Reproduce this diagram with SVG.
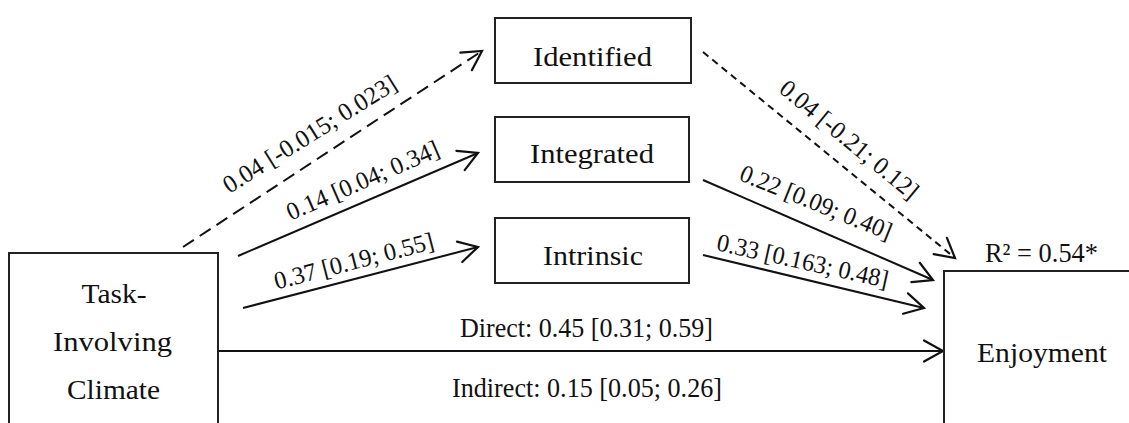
<svg xmlns="http://www.w3.org/2000/svg" width="1129" height="423" viewBox="0 0 1129 423">
<style>
.box{fill:#fff;stroke:#222;stroke-width:2}
.t{font-family:"Liberation Serif","Times New Roman",serif;fill:#111;text-anchor:middle}
.n{font-size:27.5px}
.l{font-size:25px}
.c{fill:none;stroke:#111;stroke-width:2}
.d1{stroke-dasharray:13 7}
.d2{stroke-dasharray:7 5}
</style>
<defs>
<marker id="ah" viewBox="-21 -13 24 26" markerWidth="24" markerHeight="26" refX="0" refY="0" orient="auto" markerUnits="userSpaceOnUse">
<path d="M -19 -10.5 L 0 0 L -19 10.5" fill="none" stroke="#111" stroke-width="2.2" stroke-linecap="round" stroke-linejoin="miter"/>
</marker>
</defs>
<rect width="1129" height="423" fill="#fff"/>
<g id="connectors">
<line class="c d1" x1="183" y1="247" x2="482" y2="51" marker-end="url(#ah)"/>
<line class="c" x1="238" y1="256" x2="478" y2="153" marker-end="url(#ah)"/>
<line class="c" x1="243" y1="308" x2="478" y2="247" marker-end="url(#ah)"/>
<line class="c" x1="218" y1="351" x2="943" y2="351" marker-end="url(#ah)"/>
<line class="c d2" x1="703" y1="52" x2="955" y2="258" marker-end="url(#ah)"/>
<line class="c" x1="703" y1="180" x2="933" y2="280" marker-end="url(#ah)"/>
<line class="c" x1="703" y1="255" x2="924" y2="308" marker-end="url(#ah)"/>
<text class="t l" transform="translate(314,141) rotate(-32)" textLength="200" lengthAdjust="spacingAndGlyphs">0.04 [-0.015; 0.023]</text>
<text class="t l" transform="translate(366,188) rotate(-23.5)" textLength="164" lengthAdjust="spacingAndGlyphs">0.14 [0.04; 0.34]</text>
<text class="t l" transform="translate(356,269) rotate(-14.5)" textLength="164" lengthAdjust="spacingAndGlyphs">0.37 [0.19; 0.55]</text>
<text class="t l" transform="translate(844,146) rotate(39.5)" textLength="172" lengthAdjust="spacingAndGlyphs">0.04 [-0.21; 0.12]</text>
<text class="t l" transform="translate(813,210) rotate(22)" textLength="162" lengthAdjust="spacingAndGlyphs">0.22 [0.09; 0.40]</text>
<text class="t l" transform="translate(801,269) rotate(12.5)" textLength="175" lengthAdjust="spacingAndGlyphs">0.33 [0.163; 0.48]</text>
<text class="t n" x="586.5" y="337" textLength="253" lengthAdjust="spacingAndGlyphs">Direct: 0.45 [0.31; 0.59]</text>
<text class="t n" x="587" y="397" textLength="270" lengthAdjust="spacingAndGlyphs">Indirect: 0.15 [0.05; 0.26]</text>
</g>
<g id="identified">
<rect class="box" x="495" y="18" width="196" height="65"/>
<text class="t n" x="592.5" y="66" textLength="119" lengthAdjust="spacingAndGlyphs">Identified</text>
</g>
<g id="integrated">
<rect class="box" x="495" y="117" width="194" height="65"/>
<text class="t n" x="592" y="163" textLength="124" lengthAdjust="spacingAndGlyphs">Integrated</text>
</g>
<g id="intrinsic">
<rect class="box" x="495" y="218" width="194" height="65"/>
<text class="t n" x="593" y="265" textLength="100" lengthAdjust="spacingAndGlyphs">Intrinsic</text>
</g>
<g id="task">
<rect class="box" x="9" y="253" width="209" height="185"/>
<text class="t n" x="114" y="303" textLength="65" lengthAdjust="spacingAndGlyphs">Task-</text>
<text class="t n" x="112.5" y="351" textLength="119" lengthAdjust="spacingAndGlyphs">Involving</text>
<text class="t n" x="113.5" y="399" textLength="93" lengthAdjust="spacingAndGlyphs">Climate</text>
</g>
<g id="enjoyment">
<rect class="box" x="944" y="271" width="200" height="170"/>
<text class="t n" x="1042" y="362" textLength="130" lengthAdjust="spacingAndGlyphs">Enjoyment</text>
<text class="t n" x="1041.5" y="262" textLength="113" lengthAdjust="spacingAndGlyphs">R² = 0.54*</text>
</g>
</svg>
